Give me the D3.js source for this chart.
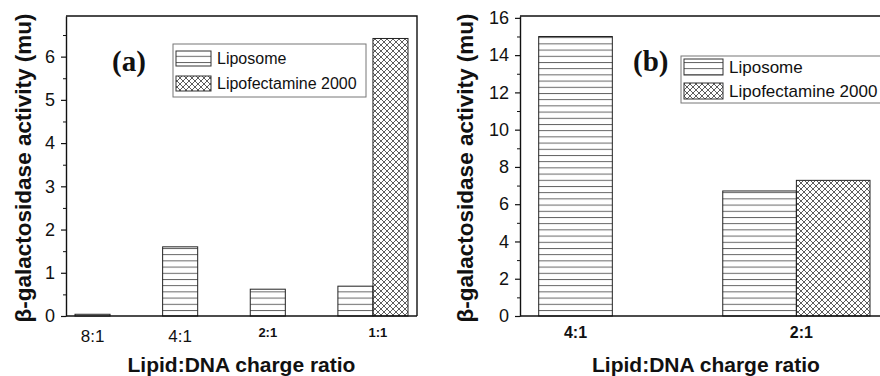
<!DOCTYPE html>
<html>
<head>
<meta charset="utf-8">
<script src="https://cdn.jsdelivr.net/npm/d3@7"></script>
<style>
body { margin: 0; background: #fff; }
svg { display: block; font-family: "Liberation Sans", Arial, sans-serif; }
</style>
</head>
<body>
<svg id="chart" width="880" height="376"></svg>
<script>
var seriesNames = ['Liposome', 'Lipofectamine 2000'];

// panel (a)
var ratiosA = ['8:1', '4:1', '2:1', '1:1'];
var liposomeA = [0.04, 1.6, 0.62, 0.69];
var lipofectamineA = [null, null, null, 6.42];
var yTicksA = [0, 1, 2, 3, 4, 5, 6];

// panel (b)
var ratiosB = ['4:1', '2:1'];
var liposomeB = [15.0, 6.71];
var lipofectamineB = [null, 7.28];
var yTicksB = [0, 2, 4, 6, 8, 10, 12, 14, 16];

var svg = d3.select('#chart');
var defs = svg.append('defs');

// horizontal line hatch
defs.append('pattern')
    .attr('id', 'hlines')
    .attr('patternUnits', 'userSpaceOnUse')
    .attr('width', 8).attr('height', 6.2)
    .append('line')
    .attr('x1', 0).attr('x2', 8).attr('y1', 0.5).attr('y2', 0.5)
    .attr('stroke', '#555').attr('stroke-width', 0.9);

// cross hatch
var xp = defs.append('pattern')
    .attr('id', 'xhatch')
    .attr('patternUnits', 'userSpaceOnUse')
    .attr('width', 6).attr('height', 6);
xp.append('path')
    .attr('d', 'M0,0L6,6M6,0L0,6')
    .attr('stroke', '#333').attr('stroke-width', 0.8).attr('fill', 'none');

var fills = ['url(#hlines)', 'url(#xhatch)'];

function drawPanel(cfg) {
    var g = svg.append('g');

    var y = d3.scaleLinear()
        .domain([0, cfg.yMax])
        .range([cfg.bottom, cfg.top]);

    var x0 = d3.scaleBand()
        .domain(cfg.cats)
        .range([cfg.barStart, cfg.barEnd])
        .paddingInner(0.2)
        .paddingOuter(0);

    var x1 = d3.scaleBand()
        .domain(seriesNames)
        .range([0, x0.bandwidth()]);

    // bars
    var rows = cfg.cats.map((c, i) => ({ cat: c, vals: [cfg.lipo[i], cfg.lipof[i]] }));
    rows.forEach(r => {
        r.vals.forEach((v, j) => {
            if (v == null) return;
            g.append('rect')
                .attr('x', x0(r.cat) + x1(seriesNames[j]))
                .attr('y', y(v))
                .attr('width', x1.bandwidth())
                .attr('height', y(0) - y(v))
                .attr('fill', fills[j])
                .attr('stroke', '#222')
                .attr('stroke-width', 1);
        });
    });

    // frame (top + right)
    g.append('path')
        .attr('d', `M${cfg.left},${cfg.top}H${cfg.right}V${cfg.bottom}`)
        .attr('fill', 'none')
        .attr('stroke', '#111')
        .attr('stroke-width', 1.4);

    // x axis line
    g.append('line')
        .attr('x1', cfg.left).attr('x2', cfg.right)
        .attr('y1', cfg.bottom).attr('y2', cfg.bottom)
        .attr('stroke', '#111').attr('stroke-width', 1.6);

    // y axis
    var yAxis = g.append('g')
        .attr('transform', `translate(${cfg.left},0)`)
        .call(d3.axisLeft(y).tickValues(cfg.yTicks).tickFormat(d3.format('d'))
            .tickSize(5).tickSizeOuter(0).tickPadding(6));
    yAxis.select('.domain').attr('stroke', '#111').attr('stroke-width', 1.4);
    yAxis.selectAll('.tick line').attr('stroke', '#111').attr('stroke-width', 1.2);
    yAxis.selectAll('.tick text')
        .attr('font-family', '"Liberation Sans", Arial, sans-serif')
        .attr('font-size', 18)
        .attr('fill', '#111');

    var minor = g.append('g')
        .attr('transform', `translate(${cfg.left},0)`)
        .call(d3.axisLeft(y).tickValues(cfg.minorTicks).tickSize(3).tickSizeOuter(0).tickFormat(''));
    minor.select('.domain').remove();
    minor.selectAll('.tick line').attr('stroke', '#111').attr('stroke-width', 1);

    // x tick labels
    cfg.cats.forEach((c, i) => {
        var cx = cfg.lipof[i] == null
            ? x0(c) + x1(seriesNames[0]) + x1.bandwidth() / 2
            : x0(c) + x0.bandwidth() / 2 + 5;
        var st = cfg.tickStyle(i);
        g.append('text')
            .attr('x', cx)
            .attr('y', cfg.bottom + st.dy)
            .attr('text-anchor', 'middle')
            .attr('font-size', st.size)
            .attr('font-weight', st.weight)
            .attr('fill', '#111')
            .text(c);
    });

    // axis titles
    g.append('text')
        .attr('x', (cfg.left + cfg.right) / 2)
        .attr('y', 372)
        .attr('text-anchor', 'middle')
        .attr('font-size', 21)
        .attr('font-weight', 'bold')
        .attr('fill', '#111')
        .text('Lipid:DNA charge ratio');

    g.append('text')
        .attr('transform', `translate(${cfg.yTitleX},${(cfg.top + cfg.bottom) / 2 + 2}) rotate(-90)`)
        .attr('text-anchor', 'middle')
        .attr('font-size', 22.5)
        .attr('font-weight', 'bold')
        .attr('fill', '#111')
        .text('\u03b2-galactosidase activity (mu)');

    // panel label
    g.append('text')
        .attr('x', cfg.labelX)
        .attr('y', 71)
        .attr('font-family', '"Liberation Serif", "Times New Roman", serif')
        .attr('font-weight', 'bold')
        .attr('font-size', 29)
        .attr('fill', '#111')
        .text(cfg.label);

    // legend
    var L = cfg.legend;
    var lg = g.append('g');
    lg.append('rect')
        .attr('x', L.x).attr('y', L.y)
        .attr('width', L.w).attr('height', L.h)
        .attr('fill', '#fff')
        .attr('stroke', '#777')
        .attr('stroke-width', 1);
    seriesNames.forEach((s, j) => {
        var ry = L.y + L.pad + j * L.gap;
        lg.append('rect')
            .attr('x', L.x + 3).attr('y', ry)
            .attr('width', L.sw).attr('height', L.sh)
            .attr('fill', fills[j])
            .attr('stroke', '#333').attr('stroke-width', 1);
        lg.append('text')
            .attr('x', L.x + 3 + L.sw + 6)
            .attr('y', ry + L.sh / 2 + L.fs * 0.36)
            .attr('font-size', L.fs)
            .attr('fill', '#111')
            .text(s);
    });
}

drawPanel({
    left: 66, right: 417, top: 16, bottom: 316,
    yMax: 6.94,
    cats: ratiosA, lipo: liposomeA, lipof: lipofectamineA,
    yTicks: yTicksA, minorTicks: d3.range(0.5, 7, 1),
    barStart: 75, barEnd: 408,
    tickStyle: i => i < 2 ? { size: 17, weight: 'normal', dy: 26 } : { size: 13, weight: 'bold', dy: 21 },
    yTitleX: 31,
    label: '(a)', labelX: 112,
    legend: { x: 173, y: 44, w: 193, h: 53, pad: 7, gap: 25, sw: 35, sh: 15, fs: 16 }
});

drawPanel({
    left: 520, right: 892, top: 16, bottom: 316,
    yMax: 16.1,
    cats: ratiosB, lipo: liposomeB, lipof: lipofectamineB,
    yTicks: yTicksB, minorTicks: d3.range(1, 16, 2),
    barStart: 538.7, barEnd: 870,
    tickStyle: i => ({ size: 16, weight: 'bold', dy: 22 }),
    yTitleX: 473,
    label: '(b)', labelX: 633,
    legend: { x: 681, y: 56, w: 230, h: 47, pad: 3, gap: 24, sw: 39, sh: 16, fs: 17 }
});
</script>
</body>
</html>
